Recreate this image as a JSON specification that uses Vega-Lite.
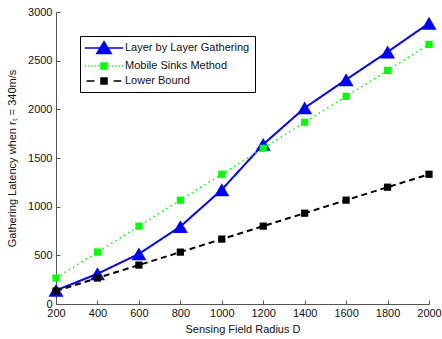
{
  "$schema": "https://vega.github.io/schema/vega-lite/v6.json",
  "width": 373,
  "height": 292,
  "autosize": {"type": "none"},
  "padding": {"left": 56, "top": 12, "right": 13, "bottom": 35},
  "background": "white",
  "config": {
    "view": {"stroke": null},
    "font": "Liberation Sans",
    "axis": {
      "domainColor": "#555555",
      "tickColor": "#555555",
      "labelColor": "#111111",
      "titleColor": "#111111",
      "labelFont": "Liberation Sans",
      "titleFont": "Liberation Sans",
      "labelFontSize": 11,
      "titleFontSize": 11,
      "titleFontWeight": "normal",
      "grid": false,
      "tickSize": -4,
      "format": "d"
    },
    "legend": {
      "title": null,
      "orient": "none",
      "legendX": 24,
      "legendY": 24,
      "strokeColor": "#000000",
      "fillColor": "#ffffff",
      "padding": 5,
      "labelFont": "Liberation Sans",
      "labelFontSize": 11,
      "labelColor": "#111111",
      "symbolSize": 144,
      "symbolOffset": 12,
      "labelOffset": 14,
      "rowPadding": 2,
      "symbolOpacity": 1
    }
  },
  "data": {
    "values": [
      {"D": 200, "series": "Layer by Layer Gathering", "latency": 140},
      {"D": 400, "series": "Layer by Layer Gathering", "latency": 310},
      {"D": 600, "series": "Layer by Layer Gathering", "latency": 515},
      {"D": 800, "series": "Layer by Layer Gathering", "latency": 795},
      {"D": 1000, "series": "Layer by Layer Gathering", "latency": 1175},
      {"D": 1200, "series": "Layer by Layer Gathering", "latency": 1640},
      {"D": 1400, "series": "Layer by Layer Gathering", "latency": 2015},
      {"D": 1600, "series": "Layer by Layer Gathering", "latency": 2305},
      {"D": 1800, "series": "Layer by Layer Gathering", "latency": 2590},
      {"D": 2000, "series": "Layer by Layer Gathering", "latency": 2885},
      {"D": 200, "series": "Mobile Sinks Method", "latency": 267},
      {"D": 400, "series": "Mobile Sinks Method", "latency": 533},
      {"D": 600, "series": "Mobile Sinks Method", "latency": 800},
      {"D": 800, "series": "Mobile Sinks Method", "latency": 1067},
      {"D": 1000, "series": "Mobile Sinks Method", "latency": 1333},
      {"D": 1200, "series": "Mobile Sinks Method", "latency": 1600},
      {"D": 1400, "series": "Mobile Sinks Method", "latency": 1867},
      {"D": 1600, "series": "Mobile Sinks Method", "latency": 2133},
      {"D": 1800, "series": "Mobile Sinks Method", "latency": 2400},
      {"D": 2000, "series": "Mobile Sinks Method", "latency": 2667},
      {"D": 200, "series": "Lower Bound", "latency": 133},
      {"D": 400, "series": "Lower Bound", "latency": 267},
      {"D": 600, "series": "Lower Bound", "latency": 400},
      {"D": 800, "series": "Lower Bound", "latency": 533},
      {"D": 1000, "series": "Lower Bound", "latency": 667},
      {"D": 1200, "series": "Lower Bound", "latency": 800},
      {"D": 1400, "series": "Lower Bound", "latency": 933},
      {"D": 1600, "series": "Lower Bound", "latency": 1067},
      {"D": 1800, "series": "Lower Bound", "latency": 1200},
      {"D": 2000, "series": "Lower Bound", "latency": 1333}
    ]
  },
  "encoding": {
    "x": {
      "field": "D", "type": "quantitative",
      "scale": {"domain": [200, 2000], "nice": false, "zero": false},
      "axis": {"values": [200, 400, 600, 800, 1000, 1200, 1400, 1600, 1800, 2000], "title": "Sensing Field Radius D", "labelPadding": 7, "titlePadding": 5, "labelFlush": false}
    },
    "y": {
      "field": "latency", "type": "quantitative",
      "scale": {"domain": [0, 3000], "nice": false},
      "axis": {"values": [0, 500, 1000, 1500, 2000, 2500, 3000], "title": "Gathering Latency when rₜ = 340m/s", "labelPadding": 8, "titlePadding": 10}
    }
  },
  "resolve": {
    "scale": {"shape": "independent", "size": "independent"},
    "legend": {"color": "independent", "shape": "independent", "fill": "independent", "stroke": "independent"}
  },
  "layer": [
    {
      "mark": {"type": "line"},
      "encoding": {
        "color": {
          "field": "series", "type": "nominal",
          "scale": {"domain": ["Layer by Layer Gathering", "Mobile Sinks Method", "Lower Bound"], "range": ["#0000ff", "#00ff00", "#000000"]},
          "legend": null
        },
        "strokeDash": {
          "field": "series", "type": "nominal",
          "scale": {"domain": ["Layer by Layer Gathering", "Mobile Sinks Method", "Lower Bound"], "range": [[1, 0], [1.5, 3.5], [6, 4]]},
          "legend": null
        },
        "strokeWidth": {
          "field": "series", "type": "nominal",
          "scale": {"type": "ordinal", "domain": ["Layer by Layer Gathering", "Mobile Sinks Method", "Lower Bound"], "range": [2, 1.5, 2]},
          "legend": null
        }
      }
    },
    {
      "mark": {"type": "point", "filled": true, "opacity": 1, "strokeWidth": 0},
      "encoding": {
        "color": {"field": "series", "type": "nominal", "legend": null},
        "shape": {
          "field": "series", "type": "nominal",
          "scale": {"domain": ["Layer by Layer Gathering", "Mobile Sinks Method", "Lower Bound"], "range": ["triangle-up", "square", "square"]},
          "legend": null
        },
        "size": {
          "field": "series", "type": "nominal",
          "scale": {"type": "ordinal", "domain": ["Layer by Layer Gathering", "Mobile Sinks Method", "Lower Bound"], "range": [225, 52, 52]},
          "legend": null
        }
      }
    },
    {
      "transform": [{"filter": "datum.D > 5000"}],
      "mark": {"type": "point", "filled": true, "opacity": 1, "strokeWidth": 2},
      "encoding": {
        "fill": {
          "field": "series", "type": "nominal",
          "scale": {"domain": ["Layer by Layer Gathering", "Mobile Sinks Method", "Lower Bound"], "range": ["#0000ff", "#00ff00", "#000000"]}
        },
        "stroke": {
          "field": "series", "type": "nominal",
          "scale": {"domain": ["Layer by Layer Gathering", "Mobile Sinks Method", "Lower Bound"], "range": ["#0000ff", "#00ff00", "#000000"]}
        },
        "shape": {
          "field": "series", "type": "nominal",
          "scale": {
            "domain": ["Layer by Layer Gathering", "Mobile Sinks Method", "Lower Bound"],
            "range": [
              "M-3.2,0H3.2M0,-1.05L1.2,0.9L-1.2,0.9Z",
              "M-3.2,0H-3M-2.65,0H-2.45M-2.1,0H-1.9M-1.55,0H-1.35M-1.0,0H-0.85M0.85,0H1.0M1.35,0H1.55M1.9,0H2.1M2.45,0H2.65M3.0,0H3.2M-0.5,-0.5H0.5V0.5H-0.5Z",
              "M-2.9,0H-1.6M1.6,0H2.9M-0.5,-0.5H0.5V0.5H-0.5Z"
            ]
          }
        }
      }
    }
  ]
}
